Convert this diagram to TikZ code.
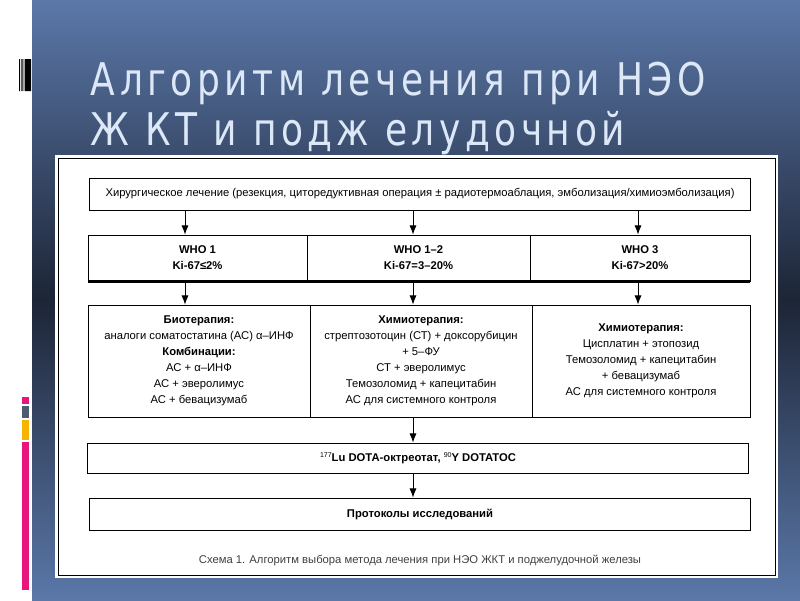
\documentclass[tikz,border=0pt]{standalone}
\usepackage{fontspec}
\setmainfont{Liberation Sans}
\newfontfamily\titlefont[LetterSpace=10,FakeStretch=0.8]{DejaVu Sans}
\usetikzlibrary{arrows.meta}
\definecolor{slidetop}{HTML}{5B78A9}
\definecolor{slidemid}{HTML}{1D2536}
\definecolor{titlecol}{HTML}{DCE8F8}
\definecolor{barpink}{HTML}{E5177D}
\definecolor{bargray}{HTML}{4D5B70}
\definecolor{barorange}{HTML}{F6B300}
\newcommand{\isotope}[1]{\raisebox{0.7ex}{\fontsize{5}{5}\selectfont\mdseries #1}}
\tikzset{
  box/.style={draw, line width=0.6pt, inner sep=0pt, align=center,
    font=\fontsize{8}{11.3}\selectfont},
  head/.style={box, font=\fontsize{8}{11.3}\selectfont\bfseries},
  arr/.style={-{Latex[length=6.5pt,width=5pt]}, line width=0.6pt},
  titletext/.style={anchor=base west, text=titlecol,
    font=\titlefont\fontsize{32}{38}\selectfont}
}

\begin{document}
\begin{tikzpicture}[x=0.025cm,y=-0.025cm]
\useasboundingbox (0,0) rectangle (800,600);
\fill[white] (0,0) rectangle (800,600);
\shade[top color=slidetop, bottom color=slidetop, middle color=slidemid]
  (32,0) rectangle (800,600);
\fill
  (19,59) rectangle (20,91)
  (21,59) rectangle (21.6,91)
  (22.3,59) rectangle (23.2,91)
  (23.8,59) rectangle (24.4,91)
  (25,59) rectangle (31,91);
\fill[barpink] (22,397) rectangle (29,404);
\fill[bargray] (22,406) rectangle (29,418);
\fill[barorange] (22,420) rectangle (29,440);
\fill[barpink] (22,442) rectangle (29,590);
\node[titletext] (title1) at (86,95) {Алгоритм лечения при НЭО};
\node[titletext] (title2) at (86,145) {Ж КТ и подж елудочной};
\fill[white] (55,155) rectangle (778,578);
\draw[line width=0.6pt] (58,158) rectangle (775,575);

\node[box, minimum width=16.5cm, minimum height=0.8cm] (surg) at (420,194)
  {Хирургическое лечение (резекция, циторедуктивная операция ± радиотермоаблация, эмболизация/химиоэмболизация)};
\node[head, minimum width=5.475cm, minimum height=1.15cm] (who1) at (197.5,258) {WHO 1\\Ki-67≤2\%};
\node[head, minimum width=5.575cm, minimum height=1.15cm] (who2) at (418.5,258) {WHO 1–2\\Ki-67=3–20\%};
\node[head, minimum width=5.5cm, minimum height=1.15cm] (who3) at (640,258) {WHO 3\\Ki-67>20\%};
\draw[line width=1.6pt] (who1.south west) -- (who3.south east);
\node[box, minimum width=5.55cm, minimum height=2.8cm] (trt1) at (199,361)
  {\textbf{Биотерапия:}\\аналоги соматостатина (АС) α–ИНФ\\\textbf{Комбинации:}\\АС + α–ИНФ\\АС + эверолимус\\АС + бевацизумаб};
\node[box, minimum width=5.55cm, minimum height=2.8cm] (trt2) at (421,361)
  {\textbf{Химиотерапия:}\\стрептозотоцин (СТ) + доксорубицин\\+ 5–ФУ\\СТ + эверолимус\\Темозоломид + капецитабин\\АС для системного контроля};
\node[box, minimum width=5.45cm, minimum height=2.8cm] (trt3) at (641,361)
  {\textbf{Химиотерапия:}\\Цисплатин + этопозид\\Темозоломид + капецитабин\\+ бевацизумаб\\АС для системного контроля};
\node[head, minimum width=16.5cm, minimum height=0.75cm] (lu) at (418,458)
  {\isotope{177}Lu DOTA-октреотат, \isotope{90}Y DOTATOC};
\node[head, minimum width=16.5cm, minimum height=0.8cm] (prot) at (420,514) {Протоколы исследований};
\node[font=\fontsize{8}{10}\selectfont, text=black!75] (caption) at (420,560)
  {Схема 1. Алгоритм выбора метода лечения при НЭО ЖКТ и поджелудочной железы};

\coordinate (c1) at (185,0);
\coordinate (c2) at (413,0);
\coordinate (c3) at (638,0);
\draw[arr] (surg.south -| c1) -- (who1.north -| c1);
\draw[arr] (surg.south -| c2) -- (who2.north -| c2);
\draw[arr] (surg.south -| c3) -- (who3.north -| c3);
\draw[arr] (who1.south -| c1) -- (trt1.north -| c1);
\draw[arr] (who2.south -| c2) -- (trt2.north -| c2);
\draw[arr] (who3.south -| c3) -- (trt3.north -| c3);
\draw[arr] (trt2.south -| c2) -- (lu.north -| c2);
\draw[arr] (lu.south -| c2) -- (prot.north -| c2);
\end{tikzpicture}
\end{document}
